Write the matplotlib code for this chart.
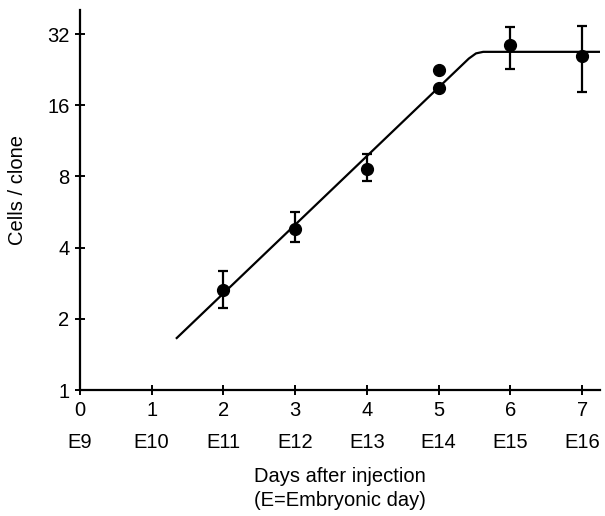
import matplotlib
matplotlib.use("Agg")
import matplotlib.pyplot as plt
import matplotlib.transforms as mtransforms

plt.rcParams['font.family'] = ['Liberation Sans', 'DejaVu Sans']

# Data
days = [2, 3, 4, 5, 6, 7]
cells = [2.65, 4.8, 8.6, 19.0, 28.8, 25.8]
err_low = [2.22, 4.22, 7.65, 19.0, 22.7, 18.2]
err_high = [3.18, 5.66, 9.95, 19.0, 34.4, 34.6]
extra_day = [5]
extra_cells = [22.6]
fit_x = [1.35, 5.42, 5.52, 5.62, 7.25]
fit_y = [1.66, 25.2, 26.5, 26.9, 26.9]
xticks = [0, 1, 2, 3, 4, 5, 6, 7]
eday_labels = ['E9', 'E10', 'E11', 'E12', 'E13', 'E14', 'E15', 'E16']
yticks = [1, 2, 4, 8, 16, 32]

FS = 14.5

fig = plt.figure(figsize=(6.05, 5.16), dpi=100)
ax = fig.add_axes([0.132, 0.244, 0.86, 0.737])

ax.set_yscale('log', base=2)
ax.set_xlim(0, 7.25)
ax.set_ylim(1, 40.5)

ax.plot(fit_x, fit_y, color='black', lw=1.6, solid_joinstyle='round')
yerr = [[c - l for c, l in zip(cells, err_low)], [h - c for c, h in zip(cells, err_high)]]
ax.errorbar(days, cells, yerr=yerr, fmt='o', color='black', ms=8.5,
            capsize=3.5, elinewidth=1.6, capthick=1.6)
ax.plot(extra_day, extra_cells, 'o', color='black', ms=8.5)

for s in ['top', 'right']:
    ax.spines[s].set_visible(False)
for s in ['left', 'bottom']:
    ax.spines[s].set_linewidth(1.6)

ax.set_xticks(xticks)
ax.set_xticklabels([str(t) for t in xticks])
ax.set_yticks(yticks)
ax.set_yticklabels([str(t) for t in yticks])
ax.minorticks_off()
ax.tick_params(direction='inout', length=7, width=1.4, labelsize=FS, pad=4)

trans = mtransforms.blended_transform_factory(ax.transData, fig.transFigure)
for x, lab in zip(xticks, eday_labels):
    ax.text(x, 1 - 442 / 516, lab, transform=trans, ha='center', va='center', fontsize=FS)

cx = 0.5 * (80 + 600) / 605
fig.text(cx, 1 - 476 / 516, 'Days after injection', ha='center', va='center', fontsize=FS)
fig.text(cx, 1 - 500 / 516, '(E=Embryonic day)', ha='center', va='center', fontsize=FS)
fig.text(18 / 605, 1 - 190 / 516, 'Cells / clone', rotation=90, ha='center', va='center', fontsize=FS)

fig.savefig('out.png', dpi=100)
